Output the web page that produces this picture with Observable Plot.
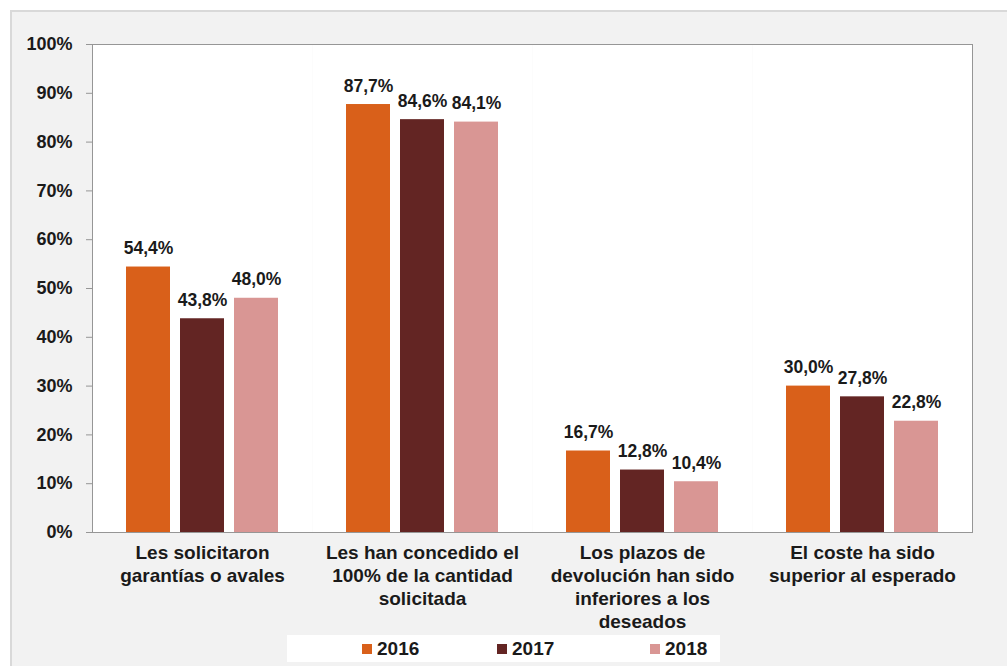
<!DOCTYPE html>
<html>
<head>
<meta charset="utf-8">
<script src="https://cdn.jsdelivr.net/npm/d3@7"></script>
<script src="https://cdn.jsdelivr.net/npm/@observablehq/plot@0.6"></script>
<style>
  html, body { margin: 0; padding: 0; background: #ffffff; }
  #wrap { position: relative; width: 1007px; height: 666px; overflow: hidden; font-family: "Liberation Sans", Arial, sans-serif; }
  #panel { position: absolute; left: 10px; top: 10px; right: 0; bottom: 0; background: #f2f2f2; border-top: 2px solid #d9d9d9; border-left: 2px solid #d9d9d9; }
  #chart { position: absolute; left: 0; top: 0; }
  #legend { position: absolute; left: 287px; top: 635px; width: 433px; height: 27px; background: #ffffff; font-weight: bold; font-size: 19px; color: #1a1a1a; }
  #legend .item { position: absolute; top: 0; height: 27px; line-height: 27px; display: flex; align-items: center; }
  #legend .sw { width: 10px; height: 10px; margin-right: 5px; display: inline-block; }
</style>
</head>
<body>
<div id="wrap">
  <div id="panel"></div>
  <div id="chart"></div>
  <div id="legend"></div>
</div>
<script>
const categories = [
  "Les solicitaron\ngarantías o avales",
  "Les han concedido el\n100% de la cantidad\nsolicitada",
  "Los plazos de\ndevolución han sido\ninferiores a los\ndeseados",
  "El coste ha sido\nsuperior al esperado"
];
const years = ["2016", "2017", "2018"];
const values2016 = [54.4, 87.7, 16.7, 30.0];
const values2017 = [43.8, 84.6, 12.8, 27.8];
const values2018 = [48.0, 84.1, 10.4, 22.8];
const colors = ["#D9601A", "#632523", "#D99694"];
const yTicks = [0, 10, 20, 30, 40, 50, 60, 70, 80, 90, 100];

const series = [values2016, values2017, values2018];
const data = categories.flatMap((c, i) => years.map((y, j) => ({cat: c, year: y, value: series[j][i]})));
const fmt = v => v.toFixed(1).replace(".", ",") + "%";
const gridColor = "#969696";

const chart = Plot.plot({
  width: 1007,
  height: 640,
  marginLeft: 90,
  marginRight: 34,
  marginTop: 44,
  marginBottom: 108,
  style: {background: "transparent", fontFamily: "'Liberation Sans', Arial, sans-serif", fontWeight: "bold", fontSize: "17px", color: "#1a1a1a"},
  fx: {domain: categories, padding: 0, label: null},
  x: {domain: years, paddingInner: 0.18, paddingOuter: 0.6, axis: null},
  y: {domain: [0, 100], label: null},
  color: {domain: years, range: colors},
  marks: [
    Plot.frame({fill: "white", stroke: "none"}),
    Plot.frame({anchor: "top", stroke: gridColor}),
    Plot.frame({anchor: "bottom", stroke: gridColor}),
    Plot.frame({anchor: "left", stroke: gridColor, facetAnchor: "left"}),
    Plot.frame({anchor: "right", stroke: gridColor, facetAnchor: "right"}),
    Plot.barY(data, {fx: "cat", x: "year", y: "value", fill: "year"}),
    Plot.text(data, {fx: "cat", x: "year", y: "value", text: d => fmt(d.value), dy: -13, lineAnchor: "bottom", fontSize: 17.5, fontWeight: "bold", fill: "#1a1a1a"}),
    Plot.axisY({ticks: yTicks, tickFormat: d => d + "%", tickSize: 6, tickPadding: 14, stroke: gridColor, fill: "#1a1a1a", label: null, fontSize: 18}),
    Plot.axisFx({anchor: "bottom", tickSize: 0, tickPadding: 10, label: null, fill: "#1a1a1a", fontSize: 19, lineHeight: 1.22})
  ]
});
document.getElementById("chart").appendChild(chart);

const legendPos = [75, 210, 363];
const legend = document.getElementById("legend");
years.forEach((y, i) => {
  const item = document.createElement("div");
  item.className = "item";
  item.style.left = legendPos[i] + "px";
  const sw = document.createElement("span");
  sw.className = "sw";
  sw.style.background = colors[i];
  item.appendChild(sw);
  item.appendChild(document.createTextNode(y));
  legend.appendChild(item);
});
</script>
</body>
</html>
